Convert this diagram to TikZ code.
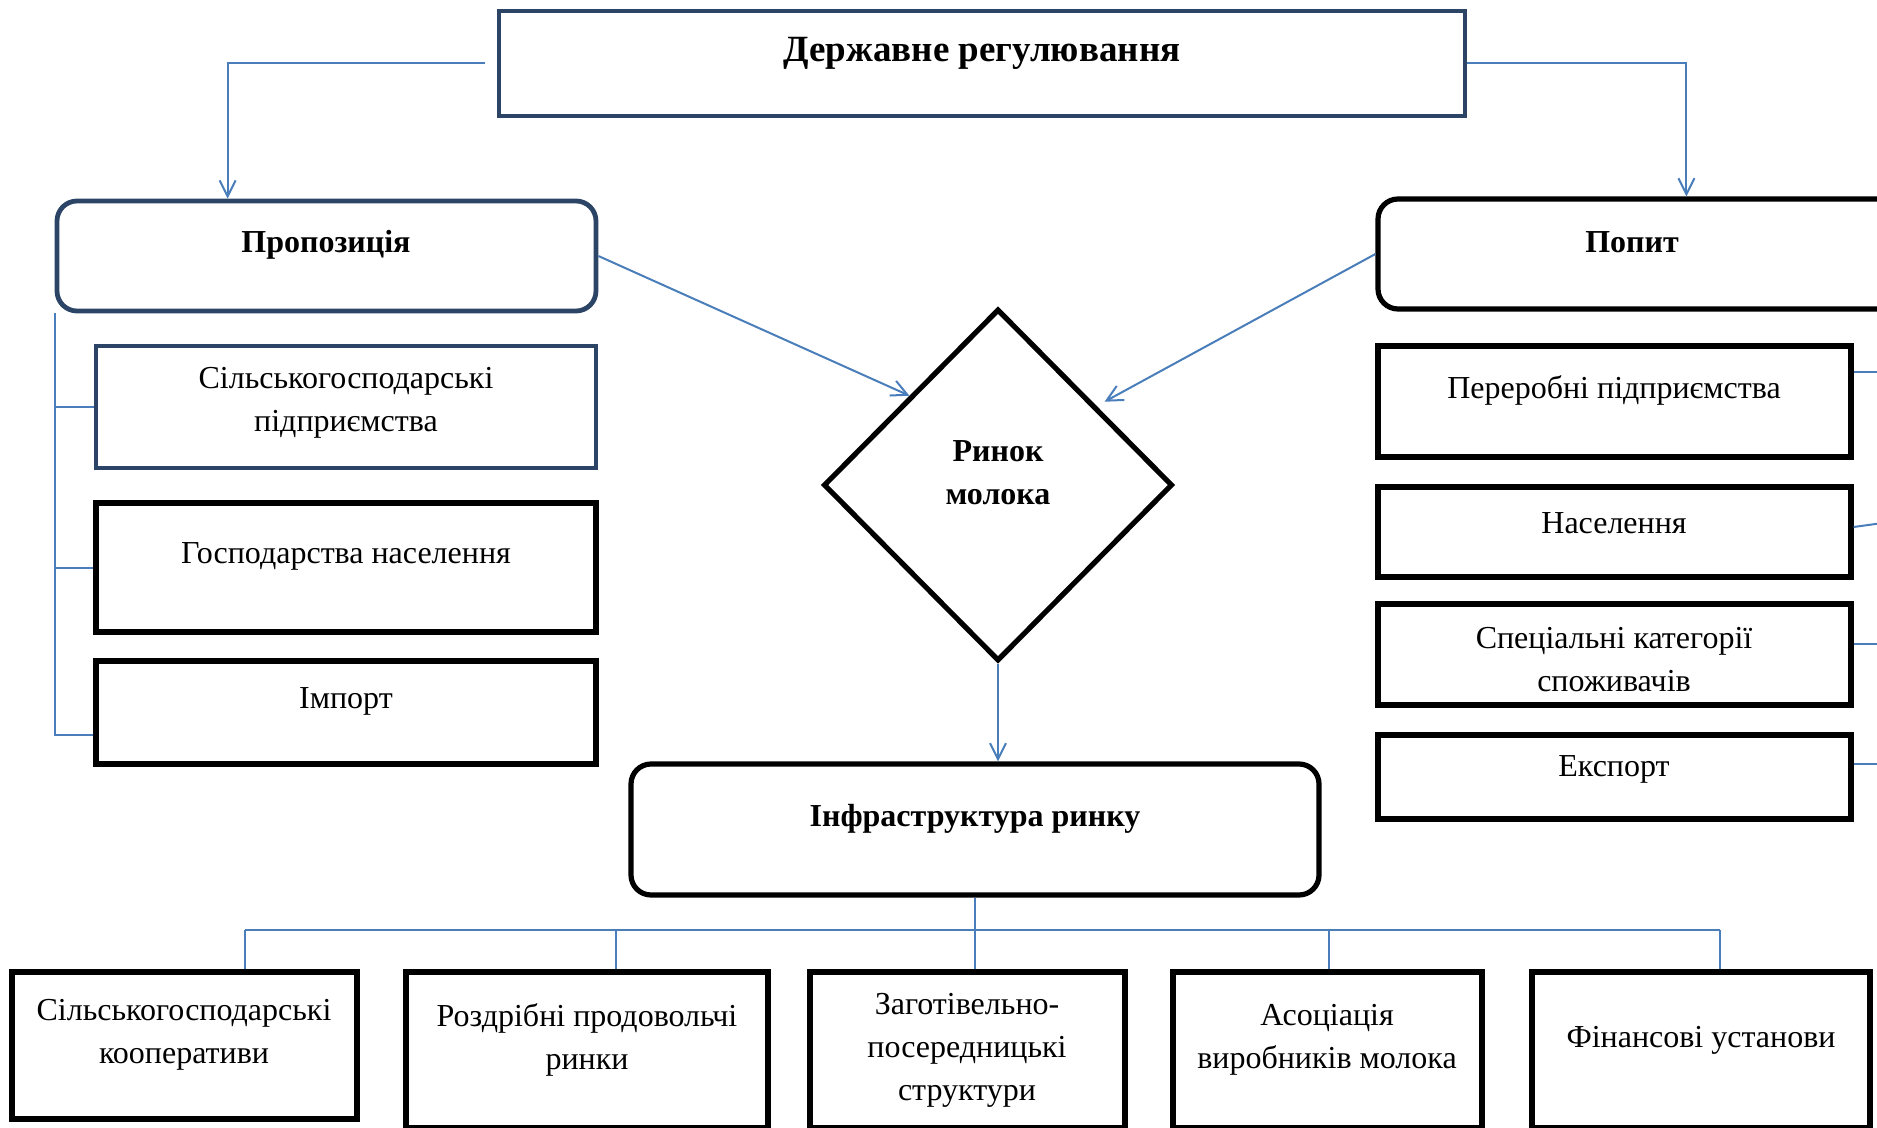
\documentclass[tikz,border=0pt]{standalone}
\usepackage{fontspec}
\setmainfont{Liberation Serif}
\usetikzlibrary{arrows.meta,shapes.geometric,fit,calc}
\definecolor{navy}{HTML}{2C4566}
\definecolor{lnk}{HTML}{4A7EBB}
\begin{document}
\begin{tikzpicture}[x=0.5pt,y=-0.5pt,
 nbox/.style={draw=navy,line width=2.4pt,inner sep=0pt},
 kbox/.style={draw=black,line width=2.6pt,inner sep=0pt},
 rnd/.style={rounded corners=10pt},
 conn/.style={draw=lnk,line width=1pt},
 arr/.style={conn,-{Straight Barb[length=8pt,width=8pt]}},
 txt/.style={font=\fontsize{16}{21.5}\selectfont,align=center,inner sep=0pt},
 btxt/.style={txt,font=\fontsize{16}{21.5}\selectfont\bfseries},
]
\clip (0,0) rectangle (1877,1128);
% boxes
\node[nbox,fit={(499,11)(1465,116)}] (gov) {};
\node[nbox,rnd,fit={(57,201)(596,311)}] (prop) {};
\node[kbox,rnd,fit={(1378,199)(1900,309)}] (pop) {};
\node[nbox,fit={(96,346)(596,468)}] (s1) {};
\node[kbox,fit={(96,503)(596,632)}] (s2) {};
\node[kbox,fit={(96,661)(596,764)}] (s3) {};
\node[kbox,fit={(1378,346)(1851,457)}] (d1) {};
\node[kbox,fit={(1378,487)(1851,577)}] (d2) {};
\node[kbox,fit={(1378,604)(1851,705)}] (d3) {};
\node[kbox,fit={(1378,735)(1851,819)}] (d4) {};
\node[kbox,diamond,minimum width=174.5pt,minimum height=176pt,aspect=1] (mkt) at (998,485) {};
\node[kbox,rnd,fit={(631,764)(1319,895)}] (inf) {};
\node[kbox,fit={(12,972)(357,1119)}] (i1) {};
\node[kbox,fit={(406,972)(768,1128)}] (i2) {};
\node[kbox,fit={(810,972)(1125,1128)}] (i3) {};
\node[kbox,fit={(1173,972)(1482,1128)}] (i4) {};
\node[kbox,fit={(1532,972)(1870,1128)}] (i5) {};
% texts
\node[txt,font=\fontsize{18.5}{22}\selectfont\bfseries] (govt) at (982,53) {Державне регулювання};
\node[btxt] (propt) at (326,245) {Пропозиція};
\node[btxt] (popt) at (1632,242) {Попит};
\node[txt] (s1t) at (346,403) {Сільськогосподарські\\підприємства};
\node[txt] (s2t) at (346,556) {Господарства населення};
\node[txt] (s3t) at (346,701) {Імпорт};
\node[txt] (d1t) at (1614,390) {Переробні підприємства};
\node[txt] (d2t) at (1614,523) {Населення};
\node[txt] (d3t) at (1614,660) {Спеціальні категорії\\споживачів};
\node[txt] (d4t) at (1614,769) {Експорт};
\node[btxt] (mktt) at (998,473) {Ринок\\молока};
\node[btxt] (inft) at (975,819) {Інфраструктура ринку};
\node[txt] (i1t) at (184,1035) {Сільськогосподарські\\кооперативи};
\node[txt] (i2t) at (587,1040) {Роздрібні продовольчі\\ринки};
\node[txt] (i3t) at (967,1050) {Заготівельно-\\посередницькі\\структури};
\node[txt] (i4t) at (1327,1040) {Асоціація\\виробників молока};
\node[txt] (i5t) at (1701,1040) {Фінансові установи};
% top connectors
\draw[arr] ([xshift=-6pt]gov.west) -| ([xshift=86.5pt]prop.north west);
\draw[arr] (gov.east) -| ([xshift=155.5pt]pop.north west);
\draw[arr] (prop.east) -- (mkt.north west);
\draw[arr] (pop.west) -- ([xshift=9pt,yshift=-3pt]mkt.north east);
\draw[arr] (mkt.south) -- (mkt.south |- inf.north);
% left bracket
\coordinate (lt) at ([yshift=-11pt]s3.west);
\draw[conn] (prop.south west) |- (lt);
\draw[conn] (prop.south west) |- (s1.west);
\draw[conn] (prop.south west) |- (s2.west);
% right stubs
\coordinate (e1) at (1890,372);
\coordinate (e2) at (1890,522);
\coordinate (e3) at (1890,644);
\coordinate (e4) at (1890,764);
\draw[conn] (d1.east |- e1) -- (e1);
\draw[conn] ([yshift=2.5pt]d2.east) -- (e2);
\draw[conn] (d3.east |- e3) -- (e3);
\draw[conn] (d4.east |- e4) -- (e4);
% bottom tree
\coordinate (bl) at (245,930);
\coordinate (b2) at (616,930);
\coordinate (b4) at (1329,930);
\coordinate (br) at (1720,930);
\draw[conn] (bl) -- (br);
\draw[conn] (inf.south) -- (inf.south |- i3.north);
\draw[conn] (bl) -- (bl |- i1.north);
\draw[conn] (b2) -- (b2 |- i2.north);
\draw[conn] (b4) -- (b4 |- i4.north);
\draw[conn] (br) -- (br |- i5.north);
\end{tikzpicture}
\end{document}
